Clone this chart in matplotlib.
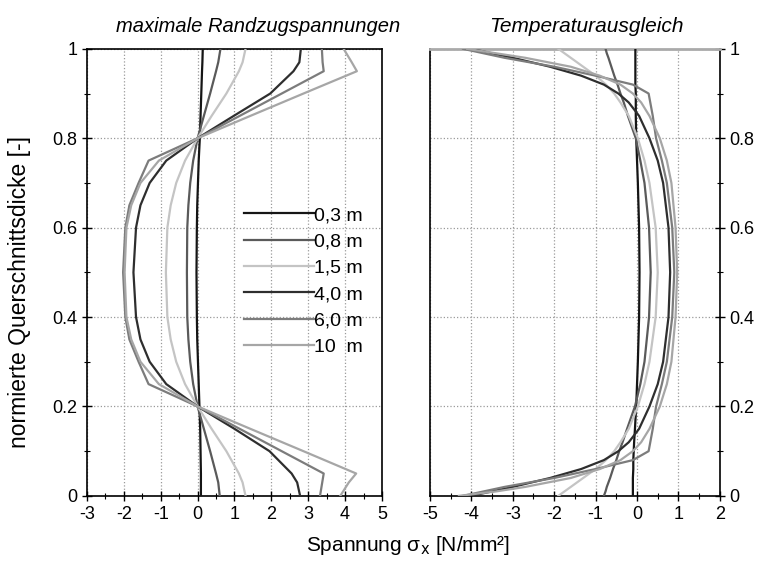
import matplotlib
matplotlib.use('Agg')
import matplotlib.pyplot as plt
from matplotlib.ticker import MultipleLocator

plt.rcParams['font.family'] = ['Liberation Sans', 'DejaVu Sans']
plt.rcParams['axes.unicode_minus'] = False

labels = ['0,3 m', '0,8 m', '1,5 m', '4,0 m', '6,0 m', '10  m']
colors = ['#151515', '#5a5a5a', '#c4c4c4', '#2e2e2e', '#7c7c7c', '#a6a6a6']
yticks = [0, 0.2, 0.4, 0.6, 0.8, 1.0]
yticklabels = ['0', '0.2', '0.4', '0.6', '0.8', '1']

# maximale Randzugspannungen
y_rand = [0, 0.03, 0.05, 0.1, 0.15, 0.2, 0.25, 0.3, 0.35, 0.4, 0.5,
          0.6, 0.65, 0.7, 0.75, 0.8, 0.85, 0.9, 0.95, 0.97, 1.0]
rand_03 = [0.09, 0.09, 0.09, 0.08, 0.07, 0.05, 0.03, 0.01, -0.01, -0.02, -0.03,
           -0.02, -0.01, 0.01, 0.03, 0.06, 0.08, 0.10, 0.12, 0.13, 0.14]
rand_08 = [0.6, 0.56, 0.5, 0.34, 0.17, 0.0, -0.12, -0.2, -0.25, -0.28, -0.29,
           -0.28, -0.25, -0.2, -0.12, 0.0, 0.17, 0.34, 0.5, 0.56, 0.62]
rand_15 = [1.3, 1.22, 1.12, 0.78, 0.38, 0.0, -0.34, -0.58, -0.73, -0.82, -0.86,
           -0.82, -0.73, -0.58, -0.34, 0.0, 0.38, 0.78, 1.12, 1.22, 1.3]
rand_40 = [2.78, 2.7, 2.55, 1.95, 1.0, 0.0, -0.85, -1.3, -1.55, -1.67, -1.74,
           -1.67, -1.55, -1.3, -0.85, 0.0, 0.98, 1.97, 2.6, 2.76, 2.8]
rand_60 = [3.32, 3.38, 3.42, 2.28, 1.14, 0.0, -1.33, -1.6, -1.85, -1.96, -2.02,
           -1.96, -1.85, -1.6, -1.33, 0.0, 1.14, 2.28, 3.42, 3.39, 3.37]
rand_10 = [3.87, 4.1, 4.3, 2.87, 1.43, 0.0, -1.05, -1.55, -1.8, -1.93, -1.98,
           -1.93, -1.8, -1.55, -1.05, 0.0, 1.43, 2.87, 4.32, 4.18, 3.96]

# Temperaturausgleich
y_temp = [0, 0.01, 0.02, 0.04, 0.06, 0.08, 0.1, 0.12, 0.15, 0.2, 0.25, 0.3, 0.4, 0.5,
          0.6, 0.7, 0.75, 0.8, 0.85, 0.88, 0.9, 0.92, 0.94, 0.96, 0.98, 0.99, 1.0]
temp_03 = [-0.1, -0.1, -0.1, -0.1, -0.09, -0.09, -0.08, -0.07, -0.05, -0.02, 0.0, 0.02, 0.05, 0.06,
           0.05, 0.02, 0.0, -0.02, -0.03, -0.03, -0.03, -0.04, -0.04, -0.04, -0.04, -0.04, -0.04]
temp_08 = [-0.8, -0.76, -0.73, -0.65, -0.58, -0.5, -0.43, -0.35, -0.24, -0.05, 0.08, 0.18, 0.29, 0.33,
           0.29, 0.18, 0.08, -0.03, -0.22, -0.32, -0.4, -0.47, -0.55, -0.62, -0.69, -0.73, -0.76]
temp_15 = [-1.9, -1.75, -1.6, -1.3, -1.0, -0.75, -0.55, -0.4, -0.2, 0.02, 0.18, 0.3, 0.45, 0.5,
           0.45, 0.3, 0.18, 0.02, -0.2, -0.4, -0.55, -0.75, -1.0, -1.3, -1.6, -1.75, -1.9]
temp_40 = [-4.0, -3.5, -3.0, -2.1, -1.35, -0.8, -0.45, -0.2, 0.05, 0.3, 0.5, 0.63, 0.76, 0.8,
           0.76, 0.63, 0.5, 0.3, 0.05, -0.2, -0.45, -0.8, -1.35, -2.1, -3.0, -3.5, -4.0]
temp_60 = [-4.2, -3.7, -3.2, -2.0, -1.0, -0.1, 0.28, 0.32, 0.38, 0.46, 0.6, 0.72, 0.85, 0.9,
           0.85, 0.72, 0.6, 0.46, 0.38, 0.32, 0.28, -0.1, -1.0, -2.0, -3.2, -3.7, -4.2]
temp_10 = [-4.3, -3.4, -2.7, -1.6, -0.9, -0.4, -0.1, 0.1, 0.3, 0.55, 0.72, 0.83, 0.93, 0.97,
           0.93, 0.83, 0.72, 0.55, 0.3, 0.1, -0.1, -0.4, -0.9, -1.6, -2.7, -3.4, -4.1]

rand = [rand_03, rand_08, rand_15, rand_40, rand_60, rand_10]
temp = [temp_03, temp_08, temp_15, temp_40, temp_60, temp_10]

fig = plt.figure(figsize=(7.65, 5.68), dpi=100)
ax1 = fig.add_axes([0.1137, 0.127, 0.3856, 0.787])
ax2 = fig.add_axes([0.562, 0.127, 0.379, 0.787])

for vals, lab, c in zip(rand, labels, colors):
    ax1.plot(vals, y_rand, color=c, lw=1.6, label=lab, zorder=3)
for vals, c in zip(temp, colors):
    ax2.plot(vals, y_temp, color=c, lw=1.6, zorder=3)

ax1.set_xlim(-3, 5)
ax2.set_xlim(-5, 2)
for ax in (ax1, ax2):
    ax.set_ylim(0, 1)
    ax.xaxis.set_major_locator(MultipleLocator(1))
    ax.xaxis.set_minor_locator(MultipleLocator(0.5))
    ax.yaxis.set_minor_locator(MultipleLocator(0.1))
    ax.grid(True, which='major', ls=':', color='#9a9a9a', lw=0.9)
    ax.tick_params(which='major', direction='inout', length=7, width=1, labelsize=13)
    ax.tick_params(which='minor', direction='inout', length=4, width=0.8)
    ax.set_yticks(yticks)
    ax.set_yticklabels(yticklabels)
    for s in ax.spines.values():
        s.set_linewidth(1.2)

ax2.yaxis.tick_right()
ax2.spines['top'].set_color('#aaaaaa')
ax2.spines['top'].set_linewidth(2)

ax1.set_title('maximale Randzugspannungen', style='italic', fontsize=14.5, pad=12, x=0.58)
ax2.set_title('Temperaturausgleich', style='italic', fontsize=15, pad=12, x=0.54)
ax1.set_ylabel('normierte Querschnittsdicke [-]', fontsize=16.5)
ax1.yaxis.set_label_coords(-0.19, 0.455)
fig.text(0.533, 0.03, 'Spannung σ$_\\mathrm{x}$ [N/mm²]', ha='center', fontsize=15)

leg = ax1.legend(loc='center left', bbox_to_anchor=(0.5, 0.48), frameon=False,
                 handlelength=3.6, handletextpad=0.0, labelspacing=0.45, fontsize=14,
                 borderpad=0)

fig.savefig('out.png', dpi=100)
